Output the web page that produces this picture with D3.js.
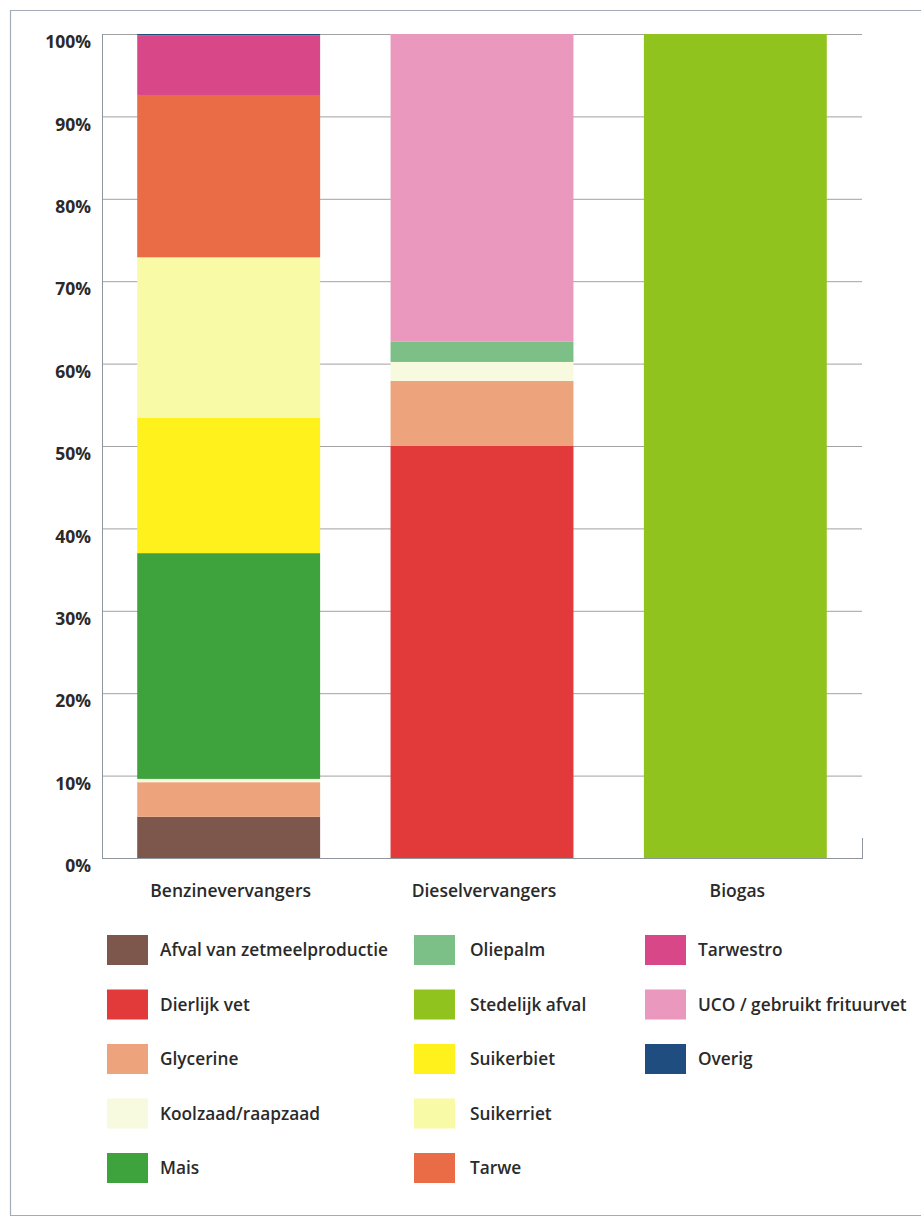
<!DOCTYPE html>
<html>
<head>
<meta charset="utf-8">
<script src="https://cdn.jsdelivr.net/npm/d3@7"></script>
<style>
	body { margin: 0; background: #fff; }
	svg text { font-family: "Open Sans", "Noto Sans", sans-serif; fill: #2a2a2a; }
</style>
</head>
<body>
<div id="chart"></div>
<script>
	// categories (bars)
	var categories = ["Benzinevervangers", "Dieselvervangers", "Biogas"];

	// feedstocks, in legend / stacking order
	var sources = [
		"Afval van zetmeelproductie", "Dierlijk vet", "Glycerine", "Koolzaad/raapzaad", "Mais",
		"Oliepalm", "Stedelijk afval", "Suikerbiet", "Suikerriet", "Tarwe",
		"Tarwestro", "UCO / gebruikt frituurvet", "Overig"
	];
	var sourceColors = [
		"#7d564c", "#e2393a", "#eda37c", "#f7fade", "#3fa33d",
		"#7cc088", "#91c31f", "#fff21c", "#f8faa6", "#ea6c47",
		"#d84889", "#ea98bd", "#1f4d80"
	];

	// share (%) per category: [Benzine, Diesel, Biogas]
	var afval      = [5.0, 0, 0];
	var dierlijk   = [0, 50.0, 0];
	var glycerine  = [4.2, 7.9, 0];
	var koolzaad   = [0.4, 2.3, 0];
	var mais       = [27.4, 0, 0];
	var oliepalm   = [0, 2.5, 0];
	var stedelijk  = [0, 0, 100];
	var suikerbiet = [16.4, 0, 0];
	var suikerriet = [19.5, 0, 0];
	var tarwe      = [19.7, 0, 0];
	var tarwestro  = [7.25, 0, 0];
	var uco        = [0, 37.3, 0];
	var overig     = [0.15, 0, 0];

	var yTicks = [0, 10, 20, 30, 40, 50, 60, 70, 80, 90, 100];

	var seriesValues = [afval, dierlijk, glycerine, koolzaad, mais, oliepalm, stedelijk,
		suikerbiet, suikerriet, tarwe, tarwestro, uco, overig];

	var table = categories.map(function (c, i) {
		var row = { category: c };
		sources.forEach(function (s, j) { row[s] = seriesValues[j][i]; });
		return row;
	});

	var width = 921, height = 1217;
	var plot = { left: 102, right: 862, top: 34, bottom: 858 };

	var svg = d3.select("#chart").append("svg")
		.attr("width", width)
		.attr("height", height);

	// outer frame (top/left/bottom, open on the right edge)
	svg.append("path")
		.attr("d", "M921,10.5 H10.5 V1215.5 H921")
		.attr("fill", "none")
		.attr("stroke", "#a3abb4")
		.attr("stroke-width", 1.2);

	var x = d3.scaleBand()
		.domain(categories)
		.range([plot.left, plot.right])
		.paddingInner(0.278)
		.paddingOuter(0.139);

	var y = d3.scaleLinear()
		.domain([0, 100])
		.range([plot.bottom, plot.top]);

	var color = d3.scaleOrdinal().domain(sources).range(sourceColors);

	// gridlines
	svg.append("g")
		.attr("class", "grid")
		.selectAll("line")
		.data(yTicks)
		.enter().append("line")
		.attr("x1", plot.left).attr("x2", plot.right)
		.attr("y1", function (d) { return y(d) + 0.5; })
		.attr("y2", function (d) { return y(d) + 0.5; })
		.attr("stroke", "#a2a2a2")
		.attr("stroke-width", 1);

	// stacked bars
	var stacked = d3.stack().keys(sources)(table);

	svg.append("g")
		.selectAll("g")
		.data(stacked)
		.enter().append("g")
		.attr("fill", function (d) { return color(d.key); })
		.selectAll("rect")
		.data(function (d) { return d.filter(function (p) { return p[1] - p[0] > 0; }); })
		.enter().append("rect")
		.attr("x", function (d) { return x(d.data.category); })
		.attr("width", x.bandwidth())
		.attr("y", function (d) { return y(d[1]); })
		.attr("height", function (d) { return y(d[0]) - y(d[1]); });

	// axes frame lines
	svg.append("line")
		.attr("x1", plot.left + 0.5).attr("x2", plot.left + 0.5)
		.attr("y1", plot.top).attr("y2", plot.bottom + 1)
		.attr("stroke", "#8f959c");
	svg.append("line")
		.attr("x1", plot.left).attr("x2", plot.right + 1)
		.attr("y1", plot.bottom + 0.5).attr("y2", plot.bottom + 0.5)
		.attr("stroke", "#8f959c");
	svg.append("line")
		.attr("x1", plot.right + 0.5).attr("x2", plot.right + 0.5)
		.attr("y1", plot.bottom - 20).attr("y2", plot.bottom + 1)
		.attr("stroke", "#8f959c");

	// y labels
	svg.append("g")
		.selectAll("text")
		.data(yTicks)
		.enter().append("text")
		.attr("x", 91)
		.attr("y", function (d) { return y(d) + 8; })
		.attr("dy", "0.35em")
		.attr("text-anchor", "end")
		.attr("font-size", "17.5px")
		.attr("font-weight", 700)
		.text(function (d) { return d + "%"; });

	// category labels
	svg.append("g")
		.selectAll("text")
		.data(categories)
		.enter().append("text")
		.attr("x", function (d) { return x(d) + x.bandwidth() / 2 + 2; })
		.attr("y", 897)
		.attr("text-anchor", "middle")
		.attr("font-size", "17.5px")
		.attr("font-weight", 600)
		.text(function (d) { return d; });

	// legend: 3 columns, 5 rows
	var colSwatch = [107, 414, 645];
	var colText = [160, 470, 698];
	var rowY = [950, 1004.5, 1059, 1113.5, 1168];

	var legend = svg.append("g")
		.selectAll("g")
		.data(sources)
		.enter().append("g")
		.attr("transform", function (d, i) {
			return "translate(0," + rowY[i % 5] + ")";
		});

	legend.append("rect")
		.attr("x", function (d, i) { return colSwatch[Math.floor(i / 5)]; })
		.attr("y", -15)
		.attr("width", 41)
		.attr("height", 30)
		.attr("fill", function (d) { return color(d); });

	legend.append("text")
		.attr("x", function (d, i) { return colText[Math.floor(i / 5)]; })
		.attr("y", 0)
		.attr("dy", "0.35em")
		.attr("font-size", "17.3px")
		.attr("font-weight", 600)
		.text(function (d) { return d; });
</script>
</body>
</html>
